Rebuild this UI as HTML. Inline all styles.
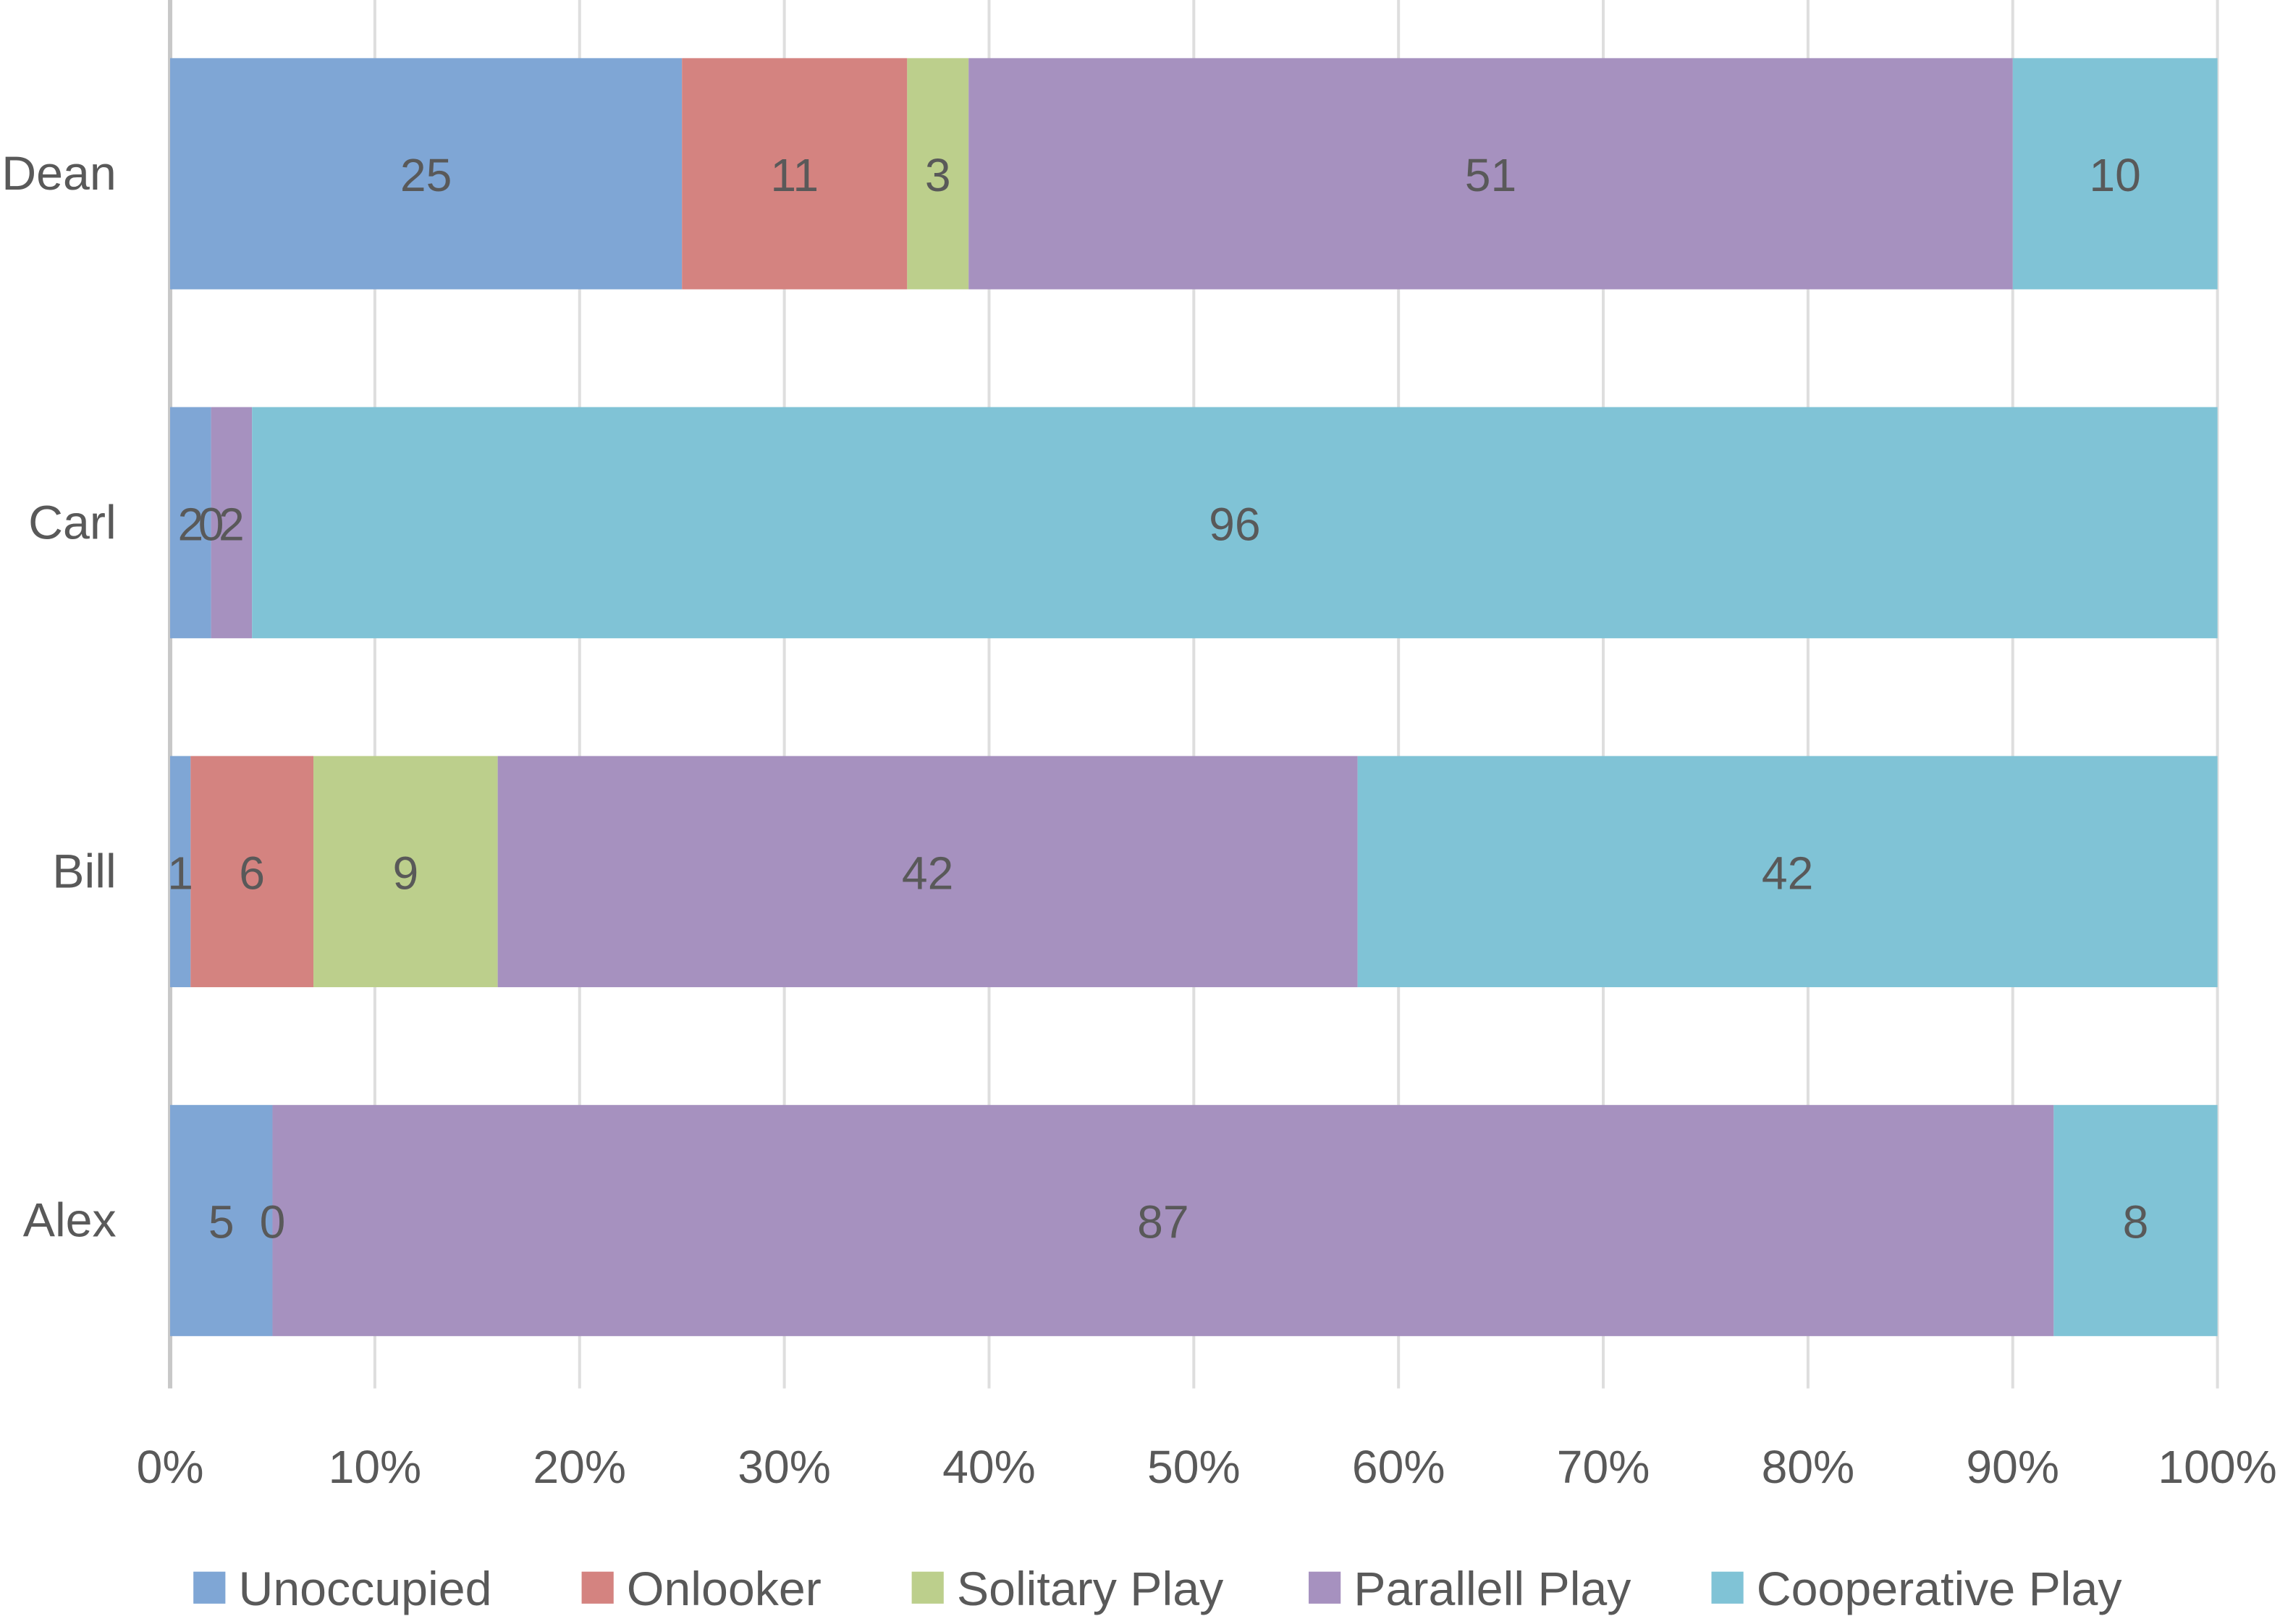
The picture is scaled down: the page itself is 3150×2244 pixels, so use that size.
<!DOCTYPE html>
<html><head><meta charset="utf-8"><style>
html,body{margin:0;padding:0;background:#fff}
svg{display:block}
text{font-family:"Liberation Sans",sans-serif;fill:#595959}
</style></head><body>
<svg id="chart" width="3150" height="2244" viewBox="0 0 1568 1117" preserveAspectRatio="none" xmlns="http://www.w3.org/2000/svg">
<g id="grid"></g>
<g id="bars"></g>
<g id="vlabels"></g>
<g id="ylabels"></g>
<g id="xlabels"></g>
<g id="legend"></g>
</svg>
<script>
const categories = ["Dean","Carl","Bill","Alex"];
const seriesNames = ["Unoccupied","Onlooker","Solitary Play","Parallell Play","Cooperative Play"];
const unoccupied = [25,2,1,5];
const onlooker = [11,0,6,0];
const solitary = [3,null,9,null];
const parallel = [51,2,42,87];
const cooperative = [10,96,42,8];
const xTicks = ["0%","10%","20%","30%","40%","50%","60%","70%","80%","90%","100%"];
const colors = ["#7fa6d5","#d48380","#bccf8c","#a691bf","#80c3d6"];
const series = [unoccupied,onlooker,solitary,parallel,cooperative];
const NS="http://www.w3.org/2000/svg";
const x0=117,x1=1525;
const xs=p=>x0+(x1-x0)*p/100;
const bandTop=0,band=240,barH=159;
const yb=i=>bandTop+i*band+40;
function mk(tag,attrs,parent){const e=document.createElementNS(NS,tag);for(const k in attrs)e.setAttribute(k,attrs[k]);parent.appendChild(e);return e;}
const grid=document.getElementById('grid');
xTicks.forEach((t,i)=>{
  const x=xs(i*10);
  const l=mk('line',{x1:x,x2:x,y1:0,y2:955,stroke:i==0?'#c8c8c8':'#dedede','stroke-width':i==0?3:2},grid);
  
  
  const tx=mk('text',{x:x,y:1020,'font-size':32,'text-anchor':'middle'},document.getElementById('xlabels'));
  tx.textContent=t;
  
  
});
const bars=document.getElementById('bars');
const vlabels=document.getElementById('vlabels');
categories.forEach((c,i)=>{
  let total=0;series.forEach(s=>{total+=s[i]||0;});
  let cum=0;const y=yb(i);
  series.forEach((s,j)=>{
    const v=s[i];if(v===null||v===undefined)return;
    const xa=xs(cum/total*100),xb=xs((cum+v)/total*100);
    if(v>0){const r=mk('rect',{x:xa,y:y,width:xb-xa,height:barH,fill:colors[j]},bars);
      
      }
    const t=mk('text',{x:(xa+xb)/2,y:y+barH/2+12,'font-size':32,'text-anchor':'middle'},vlabels);
    t.textContent=v;
    
    
    cum+=v;
  });
  const lab=mk('text',{x:80,y:y+barH/2+11,'font-size':33,'text-anchor':'end'},document.getElementById('ylabels'));
  lab.textContent=c;
  
  
});
const legend=document.getElementById('legend');
const lx=[133,400,627,900,1177];
seriesNames.forEach((n,j)=>{
  const g=mk('g',{},legend);
  
  
  mk('rect',{x:lx[j],y:1081,width:22,height:22,fill:colors[j]},g);
  const t=mk('text',{x:lx[j]+31,y:1104,'font-size':33},g);
  t.textContent=n;
});
</script>
</body></html>
